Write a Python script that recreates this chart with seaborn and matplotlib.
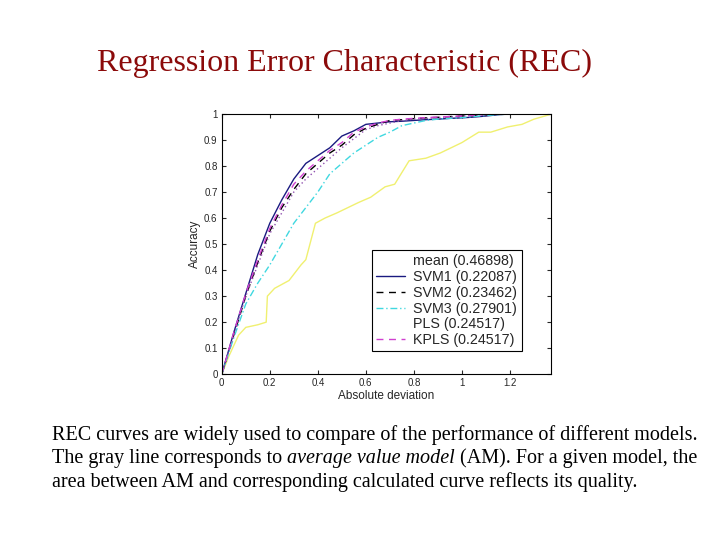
import pandas as pd
import matplotlib
matplotlib.use("Agg")
import matplotlib.pyplot as plt
import seaborn as sns

# REC curves
x_grid = [0, 0.05, 0.1, 0.15, 0.2, 0.25, 0.3, 0.35, 0.4, 0.45, 0.5, 0.55, 0.6,
          0.65, 0.7, 0.75, 0.8, 0.85, 0.9, 0.95, 1.0, 1.05, 1.1, 1.15, 1.2]
svm1 = [0, 0.16, 0.31, 0.46, 0.58, 0.67, 0.75, 0.81, 0.84, 0.87, 0.915, 0.935, 0.96,
        0.965, 0.97, 0.972, 0.975, 0.978, 0.98, 0.983, 0.985, 0.988, 0.992, 0.997, 1.0]
svm2 = [0, 0.15, 0.30, 0.43, 0.55, 0.64, 0.71, 0.77, 0.81, 0.85, 0.88, 0.92, 0.945,
        0.96, 0.975, 0.978, 0.982, 0.985, 0.987, 0.99, 0.992, 0.994, 0.997, 1.0, 1.0]
svm3 = [0, 0.14, 0.27, 0.35, 0.42, 0.50, 0.58, 0.64, 0.70, 0.77, 0.81, 0.85, 0.88,
        0.91, 0.93, 0.955, 0.965, 0.975, 0.98, 0.983, 0.986, 0.99, 0.994, 0.997, 1.0]
pls = [0, 0.15, 0.30, 0.42, 0.54, 0.62, 0.70, 0.75, 0.79, 0.83, 0.87, 0.905, 0.94,
       0.955, 0.965, 0.975, 0.98, 0.983, 0.986, 0.989, 0.992, 0.995, 0.998, 1.0, 1.0]
kpls = [0, 0.16, 0.31, 0.44, 0.56, 0.65, 0.73, 0.78, 0.82, 0.86, 0.89, 0.93, 0.95,
        0.965, 0.975, 0.98, 0.983, 0.986, 0.988, 0.99, 0.992, 0.995, 0.998, 1.0, 1.0]

mean_x = [0, 0.03, 0.07, 0.1, 0.15, 0.185, 0.19, 0.22, 0.28, 0.33, 0.35, 0.39, 0.43,
          0.48, 0.57, 0.62, 0.68, 0.72, 0.78, 0.85, 0.91, 1.0, 1.07, 1.12, 1.19, 1.25,
          1.3, 1.375]
mean_y = [0, 0.07, 0.15, 0.18, 0.19, 0.2, 0.3, 0.33, 0.36, 0.42, 0.44, 0.58, 0.6,
          0.62, 0.66, 0.68, 0.72, 0.73, 0.82, 0.83, 0.85, 0.89, 0.93, 0.93, 0.95, 0.96,
          0.98, 1.0]

labels = ["mean (0.46898)", "SVM1 (0.22087)", "SVM2 (0.23462)",
          "SVM3 (0.27901)", "PLS (0.24517)", "KPLS (0.24517)"]

sns.set_style("white")
plt.rcParams['font.family'] = ['Liberation Sans', 'DejaVu Sans']

fig = plt.figure(figsize=(7.2, 5.4), dpi=100)
ax = fig.add_axes([0.308, 0.307, 0.457, 0.482])

sns.lineplot(x=mean_x, y=mean_y, ax=ax, color='#f0f070', lw=1, label=labels[0])
sns.lineplot(x=x_grid, y=svm1, ax=ax, color='#1a1a80', lw=1, label=labels[1])
sns.lineplot(x=x_grid, y=svm2, ax=ax, color='black', lw=1, linestyle=(0, (5, 4)), label=labels[2])
sns.lineplot(x=x_grid, y=svm3, ax=ax, color='#40d8e0', lw=1, linestyle=(0, (5, 2, 1, 2)), label=labels[3])
sns.lineplot(x=x_grid, y=pls, ax=ax, color='#9050b0', lw=1, linestyle=(0, (1, 2)), label=labels[4])
sns.lineplot(x=x_grid, y=kpls, ax=ax, color='#d040d0', lw=1, linestyle=(0, (5, 4)), label=labels[5])

ax.set_xlim(0, 1.37)
ax.set_ylim(0, 1)
ax.set_xticks([0, 0.2, 0.4, 0.6, 0.8, 1, 1.2])
ax.set_xticklabels(["0", "0.2", "0.4", "0.6", "0.8", "1", "1.2"])
ax.set_yticks([i / 10 for i in range(11)])
ax.set_yticklabels(["0"] + ["0.%d" % i for i in range(1, 10)] + ["1"])
ax.tick_params(direction='in', length=3, width=0.8, labelsize=7, top=True, right=True,
               bottom=True, left=True, pad=3)
for s in ax.spines.values():
    s.set_color('black')
    s.set_linewidth(0.8)
ax.set_xlabel("Absolute deviation", fontsize=8.5, labelpad=1)
ax.set_ylabel("Accuracy", fontsize=8.5, labelpad=2)

leg = ax.legend(loc='upper left', bbox_to_anchor=(0.456, 0.477), fontsize=10.3,
                frameon=True, fancybox=False, edgecolor='black', framealpha=1,
                labelspacing=0.12, handlelength=2.0, borderpad=0.3, handletextpad=0.6,
                borderaxespad=0)
leg.get_frame().set_linewidth(0.8)
handles = leg.legend_handles
handles[0].set_visible(False)
handles[4].set_visible(False)

fig.text(0.478, 0.883, "Regression Error Characteristic (REC)", ha='center', va='center',
         fontsize=23, color='#8b0a0a', family='Liberation Serif')

body = dict(fontsize=14.5, family='Liberation Serif', color='black', va='center', ha='left')
fig.text(0.072, 0.195, "REC curves are widely used to compare of the performance of different models.", **body)
t = fig.text(0.072, 0.151, "The gray line corresponds to ", **body)
fig.canvas.draw()
r = fig.canvas.get_renderer()
bb = t.get_window_extent(r)
it = fig.text(bb.x1 / fig.bbox.width, 0.151, "average value model", style='italic', **body)
bb2 = it.get_window_extent(r)
fig.text(bb2.x1 / fig.bbox.width, 0.151, " (AM). For a given model, the", **body)
fig.text(0.072, 0.107, "area between AM and corresponding calculated curve reflects its quality.", **body)

fig.savefig("out.png", dpi=100)
